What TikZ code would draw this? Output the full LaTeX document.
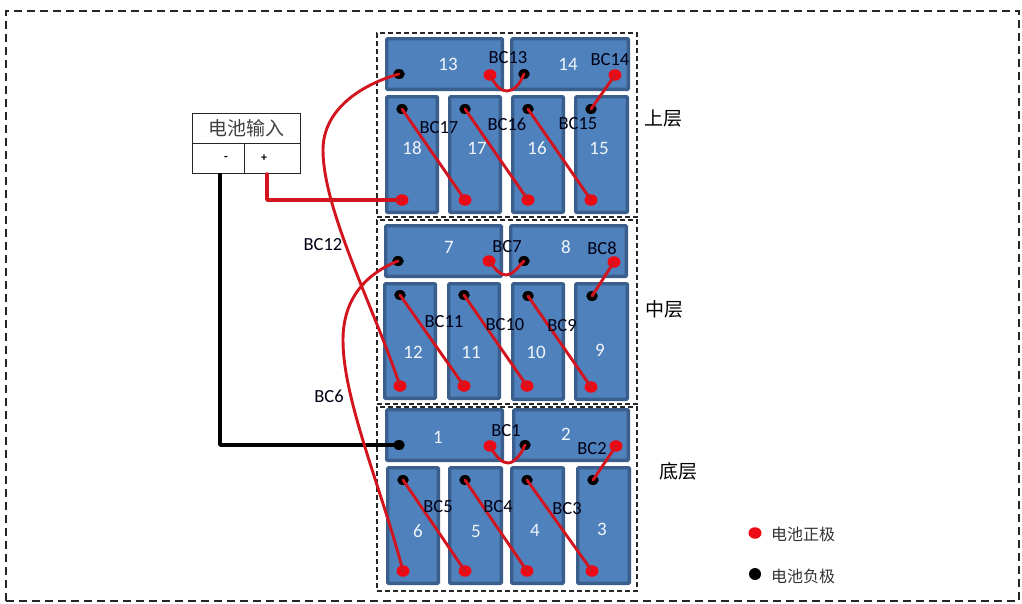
\documentclass[tikz,border=0pt]{standalone}
\usepackage{fontspec}
\setmainfont{Carlito}
\newfontfamily\cjk{Noto Sans CJK SC}
\usetikzlibrary{shapes.geometric}
\definecolor{battfill}{HTML}{4F81BD}
\definecolor{battline}{HTML}{3B5F8C}
\definecolor{wirered}{HTML}{D2141E}
\definecolor{dotred}{HTML}{EE0A14}
\tikzset{
  battbox/.style={draw=battline,fill=battfill,line width=3.4pt,rounded corners=1pt,inner sep=0pt},
  posdot/.style={ellipse,fill=dotred,inner sep=0pt,minimum width=13pt,minimum height=11.5pt},
  negdot/.style={ellipse,fill=black,inner sep=0pt,minimum width=11.5pt,minimum height=10pt},
  wire/.style={draw=wirered,line width=2.9pt,line cap=round},
  feed/.style={line width=3.5pt,line join=round},
  numtxt/.style={text=white!92!battfill,font=\fontsize{19}{19}\selectfont,inner sep=0pt},
  bctxt/.style={text=black!92!blue,font=\fontsize{18.5}{18.5}\selectfont,inner sep=0pt},
  zone/.style={draw=black!85,line width=1.2pt,dash pattern=on 5pt off 3pt},
  boxcell/.style={draw=black!85,line width=1pt,inner sep=0pt},
  layertxt/.style={font=\cjk\fontsize{19}{19}\selectfont,inner sep=0pt},
  legendtxt/.style={font=\cjk\fontsize{16}{16}\selectfont,text=black!80,inner sep=0pt,anchor=west}
}
\newcommand{\batt}[5]{%
  \pgfmathsetmacro{\bcx}{(#2+#4)/2}\pgfmathsetmacro{\bcy}{(#3+#5)/2}%
  \pgfmathsetmacro{\bwd}{#4-#2-3.4}\pgfmathsetmacro{\bht}{#5-#3-3.4}%
  \node[battbox,minimum width=\bwd pt,minimum height=\bht pt] (#1) at (\bcx,\bcy) {};}
\begin{document}
\begin{tikzpicture}[x=1pt,y=-1pt]
\useasboundingbox (0,0) rectangle (1022,603);
\fill[white] (0,0) rectangle (1022,603);
% outer and layer frames
\node[draw=black!85,line width=2pt,dash pattern=on 8pt off 5pt,minimum width=1013pt,minimum height=590pt,inner sep=0pt] (outer) at (512.5,306) {};
\node[zone,minimum width=260pt,minimum height=184pt,inner sep=0pt] (ztop) at (507,125) {};
\node[zone,minimum width=260pt,minimum height=184pt,inner sep=0pt] (zmid) at (507,312) {};
\node[zone,minimum width=260pt,minimum height=184pt,inner sep=0pt] (zbot) at (507,499) {};
% batteries
\batt{b13}{385}{37}{504}{91}
\batt{b14}{510}{37}{630}{91}
\batt{b18}{385}{95}{439}{214}
\batt{b17}{448}{95}{502}{214}
\batt{b16}{511}{95}{565}{214}
\batt{b15}{574}{95}{629}{214}
\batt{b7}{384}{224}{503}{278}
\batt{b8}{509}{224}{628}{278}
\batt{b12}{383}{282}{437}{400}
\batt{b11}{447}{282}{501}{400}
\batt{b10}{511}{282}{565}{401}
\batt{b9}{574}{282}{629}{401}
\batt{b1}{385}{408}{504}{462}
\batt{b2}{512}{408}{630}{462}
\batt{b6}{386}{466}{440}{585}
\batt{b5}{448}{466}{503}{585}
\batt{b4}{510}{466}{565}{585}
\batt{b3}{576}{466}{631}{585}
% terminals
\foreach \n/\x/\y in {n13/399/74,n14/524/74,n18/402/109,n17/465/109,n16/528/109,n15/591/109,
  n7/398/261,n8/524/261,n12/400/295,n11/464/295,n10/528/296,n9/592/296,
  n1/399/445,n2/525/445,n6/403/480,n5/465/480,n4/527/480,n3/593/480}
  \node[negdot] (\n) at (\x,\y) {};
\foreach \n/\x/\y in {p13/490/75,p14/615/75,p18/402/200,p17/465/200,p16/528/200,p15/591/200,
  p7/489/261,p8/614/262,p12/400/386,p11/464/386,p10/527/386,p9/591/387,
  p1/490/446,p2/616/446,p6/403/571,p5/465/571,p4/527/571,p3/592/571}
  \node[posdot] (\n) at (\x,\y) {};
% input box
\node[boxcell,fill=white,minimum width=108pt,minimum height=30pt,font=\cjk\fontsize{19}{19}\selectfont,text=black!75] (inbox) at (246,128) {电池输入};
\node[boxcell,fill=white,minimum width=52pt,minimum height=30pt,font=\fontsize{12}{12}\selectfont\bfseries] (minus) at (218,158) {\hspace*{16pt}-};
\node[boxcell,fill=white,minimum width=56pt,minimum height=30pt,font=\fontsize{12}{12}\selectfont\bfseries] (plus) at (272,158) {\hspace*{-16pt}+};
\coordinate (minusout) at (220,173);
\coordinate (plusout) at (267,174);
% feed lines
\draw[feed,black] (minusout) |- (n1.center);
\draw[feed,draw=wirered,line cap=round] (plusout) |- (p18.center);
% series wires
\foreach \a/\b in {n18/p17,n17/p16,n16/p15,n15/p14,
  n12/p11,n11/p10,n10/p9,n9/p8,
  n6/p5,n5/p4,n4/p3,n3/p2}
  \draw[wire] (\a.center) -- (\b.center);
% U links
\draw[wire] (p13.center) .. controls (496,86) and (500,91) .. (507,91) .. controls (514,91) and (520,84) .. (n14.center);
\draw[wire] (p7.center) .. controls (496,270) and (500,275) .. (506,275) .. controls (513,275) and (518,267) .. (n8.center);
\draw[wire] (p1.center) .. controls (496,457) and (502,463) .. (508,463) .. controls (514,463) and (521,455) .. (n2.center);
% long links
\draw[wire] (n13.center) .. controls (360,85) and (323,110) .. (323,150) .. controls (323,210) and (375,310) .. (p12.center);
\draw[wire] (n7.center) .. controls (370,272) and (343,295) .. (343,340) .. controls (343,400) and (382,490) .. (p6.center);
% numbers
\foreach \t/\x/\y in {13/448/64,14/568/64,18/412/148,17/477/148,16/537/148,15/599/148,
  7/449/247,8/566/247,12/413/352,11/471/352,10/536/352,9/600/350,
  1/438/437,2/566/434,6/418/531,5/476/531,4/535/530,3/602/529}
  \node[numtxt] (t\t) at (\x,\y) {\t};
% wire labels
\foreach \t/\x/\y in {BC13/508/58,BC14/610/60,BC17/439/128,BC16/507/124,BC15/578/124,
  BC7/507/247,BC8/602/248,BC11/444/322,BC10/505/325,BC9/562/326,
  BC1/506/431,BC2/592/449,BC5/438/507,BC4/498/507,BC3/567/509,BC12/323/245,BC6/329/396}
  \node[bctxt] (l\t) at (\x,\y) {\t};
% layer names
\node[layertxt] (ltop) at (663,119) {上层};
\node[layertxt] (lmid) at (664,309) {中层};
\node[layertxt] (lbot) at (678,471) {底层};
% legend
\node[posdot] (lgp) at (755,533) {};
\node[negdot,minimum width=12pt,minimum height=12pt] (lgn) at (755,574) {};
\node[legendtxt] (lgpt) at (771,534) {电池正极};
\node[legendtxt] (lgnt) at (771,576) {电池负极};
\end{tikzpicture}
\end{document}
